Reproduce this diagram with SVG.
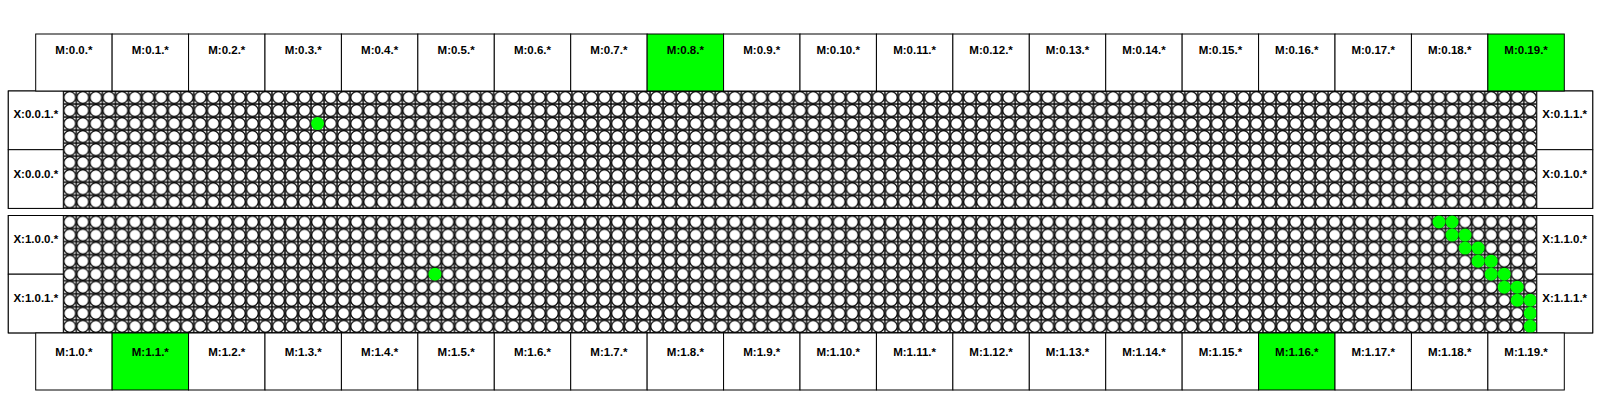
<svg xmlns="http://www.w3.org/2000/svg" width="1600" height="400" viewBox="0 0 1600 400">
<style>
.box{fill:#fff;stroke:#000;stroke-width:1}
.on{fill:#00ff00;stroke:#000;stroke-width:1}
.lbl{font-family:"Liberation Sans",Arial,sans-serif;font-weight:bold;font-size:11.5px;fill:#000;text-anchor:middle}
.dot{fill:#00ff00;stroke:none}
.frame{fill:none;stroke:#000;stroke-width:1}
</style>
<defs>
<pattern id="cells" x="0" y="0" width="13.04" height="13.04" patternUnits="userSpaceOnUse">
<rect x="0" y="0" width="13.04" height="13.04" fill="#fff" stroke="#000" stroke-width="1.4"/>
<circle cx="6.52" cy="6.52" r="5.9" fill="#fff" stroke="#000" stroke-width="1.2"/>
</pattern>
</defs>
<rect width="1600" height="400" fill="#fff"/>

<g id="block0">
<g transform="translate(63.3,91)"><rect x="0" y="0" width="1473.5" height="117.4" fill="url(#cells)"/></g>
<rect class="frame" x="8.3" y="91" width="1584.4" height="117.4"/>
<circle class="dot" cx="317.58" cy="123.6" r="6.5"/>
</g>
<g id="block1">
<g transform="translate(63.3,215.5)"><rect x="0" y="0" width="1473.5" height="117.4" fill="url(#cells)"/></g>
<rect class="frame" x="8.3" y="215.5" width="1584.4" height="117.4"/>
<circle class="dot" cx="434.94" cy="274.18" r="6.5"/>
<circle class="dot" cx="1439.02" cy="222.02" r="6.5"/>
<circle class="dot" cx="1452.06" cy="222.02" r="6.5"/>
<circle class="dot" cx="1452.06" cy="235.06" r="6.5"/>
<circle class="dot" cx="1465.10" cy="235.06" r="6.5"/>
<circle class="dot" cx="1465.10" cy="248.10" r="6.5"/>
<circle class="dot" cx="1478.14" cy="248.10" r="6.5"/>
<circle class="dot" cx="1478.14" cy="261.14" r="6.5"/>
<circle class="dot" cx="1491.18" cy="261.14" r="6.5"/>
<circle class="dot" cx="1491.18" cy="274.18" r="6.5"/>
<circle class="dot" cx="1504.22" cy="274.18" r="6.5"/>
<circle class="dot" cx="1504.22" cy="287.22" r="6.5"/>
<circle class="dot" cx="1517.26" cy="287.22" r="6.5"/>
<circle class="dot" cx="1517.26" cy="300.26" r="6.5"/>
<circle class="dot" cx="1530.30" cy="300.26" r="6.5"/>
<circle class="dot" cx="1530.30" cy="313.30" r="6.5"/>
<circle class="dot" cx="1530.30" cy="326.34" r="6.5"/>
</g>

<g id="X-0-0-1"><rect class="box" x="8.3" y="91" width="55" height="58.7"/><text class="lbl" x="35.8" y="118">X:0.0.1.*</text></g>
<g id="X-0-0-0"><rect class="box" x="8.3" y="149.7" width="55" height="58.7"/><text class="lbl" x="35.8" y="178">X:0.0.0.*</text></g>
<g id="X-0-1-1"><rect class="box" x="1536.8" y="91" width="55.9" height="58.7"/><text class="lbl" x="1564.7" y="118">X:0.1.1.*</text></g>
<g id="X-0-1-0"><rect class="box" x="1536.8" y="149.7" width="55.9" height="58.7"/><text class="lbl" x="1564.7" y="178">X:0.1.0.*</text></g>
<g id="X-1-0-0"><rect class="box" x="8.3" y="215.5" width="55" height="58.7"/><text class="lbl" x="35.8" y="243">X:1.0.0.*</text></g>
<g id="X-1-0-1"><rect class="box" x="8.3" y="274.2" width="55" height="58.7"/><text class="lbl" x="35.8" y="301.5">X:1.0.1.*</text></g>
<g id="X-1-1-0"><rect class="box" x="1536.8" y="215.5" width="55.9" height="58.7"/><text class="lbl" x="1564.7" y="243">X:1.1.0.*</text></g>
<g id="X-1-1-1"><rect class="box" x="1536.8" y="274.2" width="55.9" height="58.7"/><text class="lbl" x="1564.7" y="301.5">X:1.1.1.*</text></g>

<g id="M-0-0"><rect class="box" x="35.7" y="34" width="76.43" height="57"/><text class="lbl" x="73.9" y="54">M:0.0.*</text></g>
<g id="M-0-1"><rect class="box" x="112.13" y="34" width="76.43" height="57"/><text class="lbl" x="150.3" y="54">M:0.1.*</text></g>
<g id="M-0-2"><rect class="box" x="188.56" y="34" width="76.43" height="57"/><text class="lbl" x="226.8" y="54">M:0.2.*</text></g>
<g id="M-0-3"><rect class="box" x="264.99" y="34" width="76.43" height="57"/><text class="lbl" x="303.2" y="54">M:0.3.*</text></g>
<g id="M-0-4"><rect class="box" x="341.42" y="34" width="76.43" height="57"/><text class="lbl" x="379.6" y="54">M:0.4.*</text></g>
<g id="M-0-5"><rect class="box" x="417.85" y="34" width="76.43" height="57"/><text class="lbl" x="456.1" y="54">M:0.5.*</text></g>
<g id="M-0-6"><rect class="box" x="494.28" y="34" width="76.43" height="57"/><text class="lbl" x="532.5" y="54">M:0.6.*</text></g>
<g id="M-0-7"><rect class="box" x="570.71" y="34" width="76.43" height="57"/><text class="lbl" x="608.9" y="54">M:0.7.*</text></g>
<g id="M-0-8"><rect class="on" x="647.14" y="34" width="76.43" height="57"/><text class="lbl" x="685.4" y="54">M:0.8.*</text></g>
<g id="M-0-9"><rect class="box" x="723.57" y="34" width="76.43" height="57"/><text class="lbl" x="761.8" y="54">M:0.9.*</text></g>
<g id="M-0-10"><rect class="box" x="800" y="34" width="76.43" height="57"/><text class="lbl" x="838.2" y="54">M:0.10.*</text></g>
<g id="M-0-11"><rect class="box" x="876.43" y="34" width="76.43" height="57"/><text class="lbl" x="914.6" y="54">M:0.11.*</text></g>
<g id="M-0-12"><rect class="box" x="952.86" y="34" width="76.43" height="57"/><text class="lbl" x="991.1" y="54">M:0.12.*</text></g>
<g id="M-0-13"><rect class="box" x="1029.29" y="34" width="76.43" height="57"/><text class="lbl" x="1067.5" y="54">M:0.13.*</text></g>
<g id="M-0-14"><rect class="box" x="1105.72" y="34" width="76.43" height="57"/><text class="lbl" x="1143.9" y="54">M:0.14.*</text></g>
<g id="M-0-15"><rect class="box" x="1182.15" y="34" width="76.43" height="57"/><text class="lbl" x="1220.4" y="54">M:0.15.*</text></g>
<g id="M-0-16"><rect class="box" x="1258.58" y="34" width="76.43" height="57"/><text class="lbl" x="1296.8" y="54">M:0.16.*</text></g>
<g id="M-0-17"><rect class="box" x="1335.01" y="34" width="76.43" height="57"/><text class="lbl" x="1373.2" y="54">M:0.17.*</text></g>
<g id="M-0-18"><rect class="box" x="1411.44" y="34" width="76.43" height="57"/><text class="lbl" x="1449.7" y="54">M:0.18.*</text></g>
<g id="M-0-19"><rect class="on" x="1487.87" y="34" width="76.43" height="57"/><text class="lbl" x="1526.1" y="54">M:0.19.*</text></g>

<g id="M-1-0"><rect class="box" x="35.7" y="333" width="76.43" height="57"/><text class="lbl" x="73.9" y="356">M:1.0.*</text></g>
<g id="M-1-1"><rect class="on" x="112.13" y="333" width="76.43" height="57"/><text class="lbl" x="150.3" y="356">M:1.1.*</text></g>
<g id="M-1-2"><rect class="box" x="188.56" y="333" width="76.43" height="57"/><text class="lbl" x="226.8" y="356">M:1.2.*</text></g>
<g id="M-1-3"><rect class="box" x="264.99" y="333" width="76.43" height="57"/><text class="lbl" x="303.2" y="356">M:1.3.*</text></g>
<g id="M-1-4"><rect class="box" x="341.42" y="333" width="76.43" height="57"/><text class="lbl" x="379.6" y="356">M:1.4.*</text></g>
<g id="M-1-5"><rect class="box" x="417.85" y="333" width="76.43" height="57"/><text class="lbl" x="456.1" y="356">M:1.5.*</text></g>
<g id="M-1-6"><rect class="box" x="494.28" y="333" width="76.43" height="57"/><text class="lbl" x="532.5" y="356">M:1.6.*</text></g>
<g id="M-1-7"><rect class="box" x="570.71" y="333" width="76.43" height="57"/><text class="lbl" x="608.9" y="356">M:1.7.*</text></g>
<g id="M-1-8"><rect class="box" x="647.14" y="333" width="76.43" height="57"/><text class="lbl" x="685.4" y="356">M:1.8.*</text></g>
<g id="M-1-9"><rect class="box" x="723.57" y="333" width="76.43" height="57"/><text class="lbl" x="761.8" y="356">M:1.9.*</text></g>
<g id="M-1-10"><rect class="box" x="800" y="333" width="76.43" height="57"/><text class="lbl" x="838.2" y="356">M:1.10.*</text></g>
<g id="M-1-11"><rect class="box" x="876.43" y="333" width="76.43" height="57"/><text class="lbl" x="914.6" y="356">M:1.11.*</text></g>
<g id="M-1-12"><rect class="box" x="952.86" y="333" width="76.43" height="57"/><text class="lbl" x="991.1" y="356">M:1.12.*</text></g>
<g id="M-1-13"><rect class="box" x="1029.29" y="333" width="76.43" height="57"/><text class="lbl" x="1067.5" y="356">M:1.13.*</text></g>
<g id="M-1-14"><rect class="box" x="1105.72" y="333" width="76.43" height="57"/><text class="lbl" x="1143.9" y="356">M:1.14.*</text></g>
<g id="M-1-15"><rect class="box" x="1182.15" y="333" width="76.43" height="57"/><text class="lbl" x="1220.4" y="356">M:1.15.*</text></g>
<g id="M-1-16"><rect class="on" x="1258.58" y="333" width="76.43" height="57"/><text class="lbl" x="1296.8" y="356">M:1.16.*</text></g>
<g id="M-1-17"><rect class="box" x="1335.01" y="333" width="76.43" height="57"/><text class="lbl" x="1373.2" y="356">M:1.17.*</text></g>
<g id="M-1-18"><rect class="box" x="1411.44" y="333" width="76.43" height="57"/><text class="lbl" x="1449.7" y="356">M:1.18.*</text></g>
<g id="M-1-19"><rect class="box" x="1487.87" y="333" width="76.43" height="57"/><text class="lbl" x="1526.1" y="356">M:1.19.*</text></g>
</svg>
